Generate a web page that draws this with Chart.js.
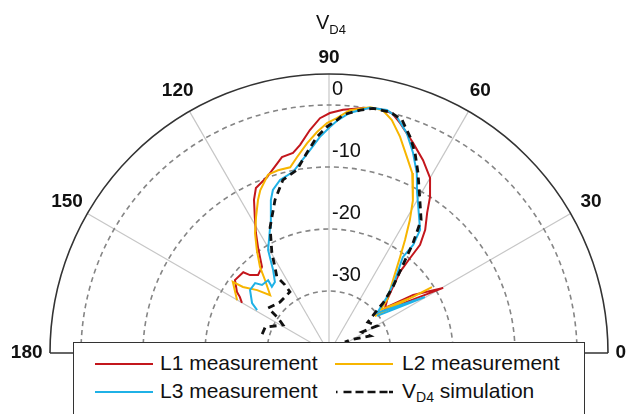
<!DOCTYPE html>
<html>
<head>
<meta charset="utf-8">
<script src="https://cdn.jsdelivr.net/npm/chart.js@4.4.0/dist/chart.umd.min.js"></script>
<style>
  html, body { margin: 0; padding: 0; background: #fff; }
  #wrap { position: relative; width: 636px; height: 414px; overflow: hidden;
          font-family: Arial, "Liberation Sans", sans-serif; color: #111; }
  #chart { position: absolute; left: 0; top: 0; }
  #legendBox { position: absolute; left: 73px; top: 342px; width: 512px; height: 90px;
               border: 1.5px solid #333; background: #fff; box-sizing: border-box; }
  .lg { position: absolute; font-size: 21px; line-height: 24px; white-space: nowrap; }
  .lg sub { font-size: 14px; vertical-align: -4px; line-height: 0; }
  #legendLines { position: absolute; left: 0; top: 0; }
</style>
</head>
<body>
<div id="wrap">
  <canvas id="chart" width="636" height="414"></canvas>
  <div id="legendBox"></div>
  <svg id="legendLines" width="636" height="414">
    <line x1="95" y1="364" x2="153" y2="364" stroke="#c3161c" stroke-width="2"/>
    <line x1="335" y1="364" x2="393" y2="364" stroke="#f7b500" stroke-width="2"/>
    <line x1="95" y1="392" x2="153" y2="392" stroke="#1fb1e6" stroke-width="2"/>
    <line x1="336" y1="392" x2="393" y2="392" stroke="#111" stroke-width="2.5" stroke-dasharray="1.5 6 8 4 8 4 8 4 8"/>
  </svg>
  <div class="lg" style="left:160px;top:351px">L1 measurement</div>
  <div class="lg" style="left:402px;top:351px">L2 measurement</div>
  <div class="lg" style="left:160px;top:379px">L3 measurement</div>
  <div class="lg" style="left:402px;top:379px">V<sub>D4</sub> simulation</div>
</div>
<script>
// radial axis (dB), centre of the plot is -40 dB
const dbMin = -40;
const dbMax = 5;
const ringDb = [-30, -20, -10, 0];
const ringLabels = ['-30', '-20', '-10', '0'];
const spokeAngles = [30, 60, 90, 120, 150];
const angleLabels = [0, 30, 60, 90, 120, 150, 180];

// L1 measurement
const l1Angle = [150.1, 147.8, 146.5, 142.2, 136.7, 135.4, 132.3, 127.9, 123.8, 121.3, 118.6, 116.1, 113.9, 109.4,
  103.5, 100.2, 97.9, 94.9, 92.2, 89.8, 86.7, 82.1, 78.2, 75.3, 72.8, 68.2, 64.0, 60.0, 57.1, 55.0, 52.0, 49.9,
  49.5, 48.8, 45.9, 42.4, 38.8, 34.6, 29.7, 40.8];
const l1Db = [-23.8, -23.0, -22.2, -20.8, -21.0, -22.1, -23.0, -22.4, -19.4, -17.3, -15.0, -12.5, -10.9, -9.9,
  -7.5, -7.2, -6.1, -3.9, -2.1, -1.3, -0.7, -0.1, 0.2, 0.0, -1.2, -3.5, -5.4, -7.4, -10.0, -12.4, -14.8, -17.2,
  -19.9, -22.6, -25.2, -27.3, -28.4, -23.5, -18.8, -30.6];

// L2 measurement
const l2Angle = [150.1, 143.5, 142.5, 138.8, 135.5, 131.2, 128.7, 125.0, 121.7, 118.2, 114.9, 112.9, 108.9, 105.6,
  101.8, 99.3, 96.0, 93.1, 90.5, 88.1, 85.1, 80.5, 77.5, 74.9, 71.8, 68.3, 65.2, 63.2, 61.2, 58.7, 56.1, 53.5,
  48.8, 42.4, 40.1, 33.7, 32.6, 38.8];
const l2Db = [-22.9, -20.7, -22.5, -24.6, -26.7, -24.3, -22.2, -19.7, -17.3, -15.1, -12.8, -11.5, -9.6, -9.4,
  -9.4, -8.0, -6.0, -4.3, -2.9, -2.1, -0.7, 0.2, 0.1, -1.1, -3.3, -6.0, -8.0, -10.0, -11.9, -14.9, -18.0, -20.7,
  -24.3, -27.3, -29.2, -23.7, -20.3, -30.5];

// L3 measurement
const l3Angle = [149.2, 147.0, 141.4, 136.6, 134.6, 129.9, 130.8, 127.3, 124.0, 120.6, 115.1, 110.8, 109.0, 105.8,
  101.2, 98.7, 95.3, 92.4, 89.7, 87.8, 85.0, 80.5, 76.6, 73.9, 70.5, 67.2, 64.0, 61.2, 57.3, 53.5, 52.1, 52.4,
  47.9, 44.0, 39.8, 30.3, 37.6];
const l3Db = [-26.5, -25.2, -23.7, -23.6, -24.6, -24.7, -25.9, -25.6, -23.9, -20.7, -17.6, -13.6, -12.2, -11.0,
  -10.2, -9.0, -7.1, -5.1, -3.5, -2.4, -1.1, 0.1, 0.3, -0.4, -2.4, -5.0, -7.7, -10.5, -13.2, -15.3, -17.9, -20.5,
  -24.1, -27.0, -29.9, -22.1, -30.2];

// VD4 simulation
const simAngle = [164.2, 157.9, 148.7, 145.5, 143.6, 133.9, 122.6, 122.9, 124.4, 122.4, 119.7, 115.1, 109.4, 104.9,
  99.9, 96.3, 93.2, 90.5, 88.0, 86.6, 82.7, 79.8, 75.8, 72.6, 69.4, 66.7, 63.7, 59.3, 55.3, 52.6, 49.7, 45.9,
  42.8, 41.0, 38.5, 29.4, 32.5, 22.5, 31.8, 34.5];
const simDb = [-28.8, -28.9, -31.3, -30.0, -27.8, -28.6, -28.3, -26.9, -25.1, -23.8, -21.4, -17.6, -13.8, -11.1,
  -10.0, -7.5, -5.1, -3.5, -2.4, -1.5, -0.5, 0.1, 0.1, -0.6, -2.8, -4.9, -7.6, -11.3, -13.9, -17.7, -21.8, -25.2,
  -28.1, -30.2, -32.0, -31.1, -33.7, -32.8, -36.0, -36.9];

function toXY(angles, dbs) {
  return angles.map((a, i) => {
    const r = dbs[i] - dbMin;
    const t = a * Math.PI / 180;
    return { x: r * Math.cos(t), y: r * Math.sin(t) };
  });
}

// grid, outer frame and labels
const polarGrid = {
  id: 'polarGrid',
  beforeDatasetsDraw(chart) {
    const { ctx, scales: { x, y } } = chart;
    const cx = x.getPixelForValue(0), cy = y.getPixelForValue(0);
    const unit = x.getPixelForValue(1) - cx;
    const R = (dbMax - dbMin) * unit;
    ctx.save();
    ctx.strokeStyle = '#c6c6c6';
    ctx.lineWidth = 1.2;
    spokeAngles.forEach(a => {
      const t = a * Math.PI / 180;
      ctx.beginPath();
      ctx.moveTo(cx, cy);
      ctx.lineTo(cx + R * Math.cos(t), cy - R * Math.sin(t));
      ctx.stroke();
    });
    ctx.setLineDash([5, 4]);
    ctx.strokeStyle = '#858585';
    ctx.lineWidth = 1.6;
    ringDb.forEach(d => {
      ctx.beginPath();
      ctx.arc(cx, cy, (d - dbMin) * unit, Math.PI, 2 * Math.PI);
      ctx.stroke();
    });
    ctx.setLineDash([]);
    ctx.strokeStyle = '#333';
    ctx.lineWidth = 1.6;
    ctx.beginPath();
    ctx.arc(cx, cy, R, Math.PI, 2 * Math.PI);
    ctx.stroke();
    ctx.beginPath();
    ctx.moveTo(cx - R, cy);
    ctx.lineTo(cx + R, cy);
    ctx.stroke();
    ctx.restore();
  },
  afterDatasetsDraw(chart) {
    const { ctx, scales: { x, y } } = chart;
    const cx = x.getPixelForValue(0), cy = y.getPixelForValue(0);
    const unit = x.getPixelForValue(1) - cx;
    ctx.save();
    ctx.fillStyle = '#111';
    // radial tick labels
    ctx.font = '20px Arial, "Liberation Sans", sans-serif';
    ctx.textAlign = 'left';
    ctx.textBaseline = 'middle';
    ringDb.forEach((d, i) => {
      ctx.fillText(ringLabels[i], cx + 3, cy - (d - dbMin) * unit - 16);
    });
    // angle labels
    ctx.font = 'bold 19px Arial, "Liberation Sans", sans-serif';
    angleLabels.forEach(a => {
      const t = a * Math.PI / 180;
      let r = 48.8 * unit;
      ctx.textAlign = 'center';
      if (a === 0) { ctx.textAlign = 'left'; r = 46.2 * unit; }
      if (a === 180) { ctx.textAlign = 'right'; r = 46.2 * unit; }
      if (a === 90) r = 47.6 * unit;
      ctx.fillText(String(a), cx + r * Math.cos(t), cy - r * Math.sin(t));
    });
    // title
    ctx.font = '20px Arial, "Liberation Sans", sans-serif';
    ctx.textAlign = 'left';
    ctx.textBaseline = 'alphabetic';
    const vw = ctx.measureText('V').width;
    ctx.font = '13px Arial, "Liberation Sans", sans-serif';
    const sw = ctx.measureText('D4').width;
    const tx = cx + 2 - (vw + sw) / 2;
    ctx.font = '20px Arial, "Liberation Sans", sans-serif';
    ctx.fillText('V', tx, 29);
    ctx.font = '13px Arial, "Liberation Sans", sans-serif';
    ctx.fillText('D4', tx + vw, 34);
    ctx.restore();
  }
};

const data = {
  datasets: [
    { label: 'L1 measurement', data: toXY(l1Angle, l1Db), borderColor: '#c3161c', borderWidth: 2, order: 3 },
    { label: 'L2 measurement', data: toXY(l2Angle, l2Db), borderColor: '#f7b500', borderWidth: 2, order: 2 },
    { label: 'L3 measurement', data: toXY(l3Angle, l3Db), borderColor: '#1fb1e6', borderWidth: 2, order: 1 },
    { label: 'VD4 simulation', data: toXY(simAngle, simDb), borderColor: '#111', borderWidth: 2.8,
      borderDash: [7, 5], order: 0 }
  ]
};

const config = {
  type: 'scatter',
  data,
  options: {
    responsive: false,
    animation: false,
    showLine: true,
    elements: { point: { radius: 0 }, line: { tension: 0, fill: false } },
    layout: { padding: 0 },
    plugins: { legend: { display: false }, tooltip: { enabled: false } },
    scales: {
      x: { type: 'linear', display: false, min: -329 / 6.2, max: 307 / 6.2 },
      y: { type: 'linear', display: false, min: -61 / 6.2, max: 353 / 6.2 }
    }
  },
  plugins: [polarGrid]
};

const myChart = new Chart(document.getElementById('chart'), config);
</script>
</body>
</html>
